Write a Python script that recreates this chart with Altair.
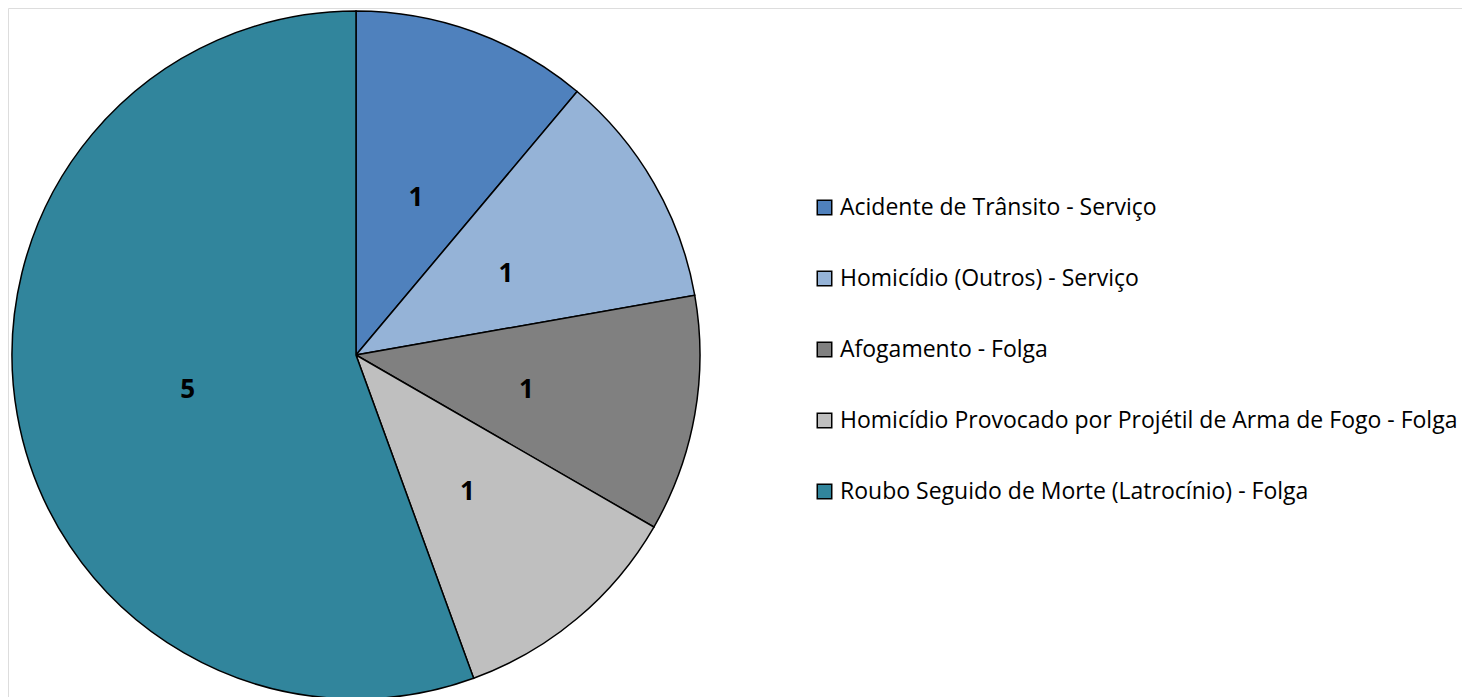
import altair as alt
import pandas as pd

categories = [
    "Acidente de Trânsito - Serviço",
    "Homicídio (Outros) - Serviço",
    "Afogamento - Folga",
    "Homicídio Provocado por Projétil de Arma de Fogo - Folga",
    "Roubo Seguido de Morte (Latrocínio) - Folga",
]
values = [1, 1, 1, 1, 5]
colors = ["#4f81bd", "#95b3d7", "#808080", "#bfbfbf", "#31859c"]

df = pd.DataFrame({"cat": categories, "value": values, "order": list(range(len(values)))})

cx, cy, R = 348, 347, 344

base = alt.Chart(df).encode(
    theta=alt.Theta("value:Q", stack=True),
    order=alt.Order("order:Q"),
    x=alt.value(cx),
    y=alt.value(cy),
)

pie = base.mark_arc(outerRadius=R, stroke="black", strokeWidth=1.5).encode(
    color=alt.Color(
        "cat:N",
        scale=alt.Scale(domain=categories, range=colors),
        sort=categories,
        legend=alt.Legend(
            title=None,
            orient="none",
            legendX=805,
            legendY=188,
            symbolType="square",
            symbolSize=210,
            symbolStrokeColor="black",
            symbolStrokeWidth=1.5,
            labelFont="Open Sans",
            labelFontSize=23,
            labelColor="black",
            labelLimit=800,
            rowPadding=47,
            labelOffset=4,
        ),
    )
)

labels = base.mark_text(
    radius=172, dy=5, dx=1, font="Open Sans", fontSize=26, fontWeight="bold", color="black"
).encode(text="value:Q")

chart = (
    alt.layer(pie, labels)
    .properties(width=1454, height=689, autosize=alt.AutoSizeParams(type="none"), padding=0)
    .configure_view(stroke="transparent", strokeWidth=0)
    .configure(background="white")
)

chart.save("out.html", embed_options={"renderer": "svg", "actions": False})
